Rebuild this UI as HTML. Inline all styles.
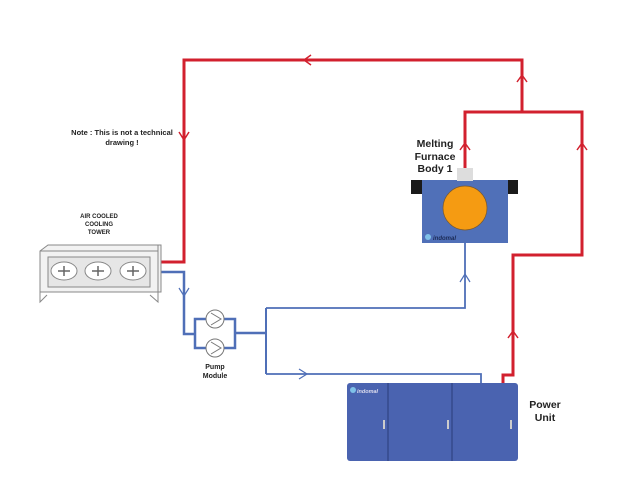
<!DOCTYPE html>
<html><head><style>body{margin:0;background:#fff}svg{display:block}text{font-family:"Liberation Sans",sans-serif;font-weight:bold}</style></head><body>
<svg width="640" height="498" viewBox="0 0 640 498" xmlns="http://www.w3.org/2000/svg">
<g fill="none" stroke="#d2202e" stroke-width="3">
<polyline points="160,262 184,262 184,60 522,60 522,112"/>
<polyline points="465,168 465,112 582,112 582,255 513,255 513,375 503,375 503,384"/>
</g>
<g fill="none" stroke="#d2202e" stroke-width="1.5">
<polyline points="311,55 304,60 311,65"/>
<polyline points="179,132 184,140 189,132"/>
<polyline points="517,82 522,75 527,82"/>
<polyline points="460,150 465,143 470,150"/>
<polyline points="577,150 582,143 587,150"/>
<polyline points="508,338 513,331 518,338"/>
</g>
<g fill="none" stroke="#4f6fb7">
<polyline stroke-width="2.5" points="160,272 184,272 184,334 195,334"/>
<rect x="195" y="319" width="40" height="29" stroke-width="2.5"/>
<polyline stroke-width="2.5" points="235,333 266,333"/>
<polyline stroke-width="2" points="266,308 266,374"/>
<polyline stroke-width="1.8" points="266,308 465,308 465,243"/>
<polyline stroke-width="1.8" points="266,374 481,374 481,384"/>
<polyline stroke-width="1.2" points="179,288 184,296 189,288"/>
<polyline stroke-width="1.2" points="460,282 465,274 470,282"/>
<polyline stroke-width="1.2" points="299,369 307,374 299,379"/>
</g>
<g fill="#fff" stroke="#777" stroke-width="1">
<circle cx="215" cy="319" r="9"/><circle cx="215" cy="348" r="9"/>
<polyline points="211,313 221,319 211,325"/><polyline points="211,342 221,348 211,354"/>
</g>
<g stroke="#888" stroke-width="1" fill="#f2f2f2">
<polygon points="40,251 48,245 161,245 161,292 40,292"/>
<line x1="40" y1="251" x2="158" y2="251"/>
<line x1="158" y1="245" x2="158" y2="292"/>
<rect x="48" y="257" width="102" height="30" fill="#e6e6e6"/>
<ellipse cx="64" cy="271" rx="13" ry="9" fill="#fff"/>
<ellipse cx="98" cy="271" rx="13" ry="9" fill="#fff"/>
<ellipse cx="133" cy="271" rx="13" ry="9" fill="#fff"/>
<polyline fill="none" points="40,292 40,302 47,295"/>
<polyline fill="none" points="158,292 158,302 150,295"/>
</g>
<g stroke="#666" stroke-width="1.5">
<path d="M58,271h12M64,266v10M92,271h12M98,266v10M127,271h12M133,266v10"/>
</g>
<rect x="411" y="180" width="12" height="14" fill="#1a1a1a"/>
<rect x="507" y="180" width="11" height="14" fill="#1a1a1a"/>
<rect x="422" y="180" width="86" height="63" fill="#5070b8"/>
<rect x="457" y="168" width="16" height="13" fill="#ddd"/>
<circle cx="465" cy="208" r="22" fill="#f59b12" stroke="#7a5a30" stroke-width="0.7"/>
<circle cx="428" cy="237" r="3" fill="#7fc1e8"/>
<text x="433" y="240" font-size="6" fill="#1b2a55" font-style="italic">indomal</text>
<rect x="347" y="383" width="171" height="78" rx="3" fill="#4a63b0"/>
<line x1="388" y1="383" x2="388" y2="461" stroke="#2a3c7a"/>
<line x1="452" y1="383" x2="452" y2="461" stroke="#2a3c7a"/>
<rect x="383" y="420" width="2" height="9" fill="#ccc"/>
<rect x="447" y="420" width="2" height="9" fill="#ccc"/>
<rect x="510" y="420" width="2" height="9" fill="#ccc"/>
<circle cx="353" cy="390" r="3" fill="#7fc1e8"/>
<text x="357" y="393" font-size="5.5" fill="#dde" font-style="italic">indomal</text>
<g fill="#222" text-anchor="middle">
<text x="122" y="135" font-size="7.5">Note : This is not a technical</text>
<text x="122" y="145" font-size="7.5">drawing !</text>
<text x="99" y="218" font-size="6">AIR COOLED</text>
<text x="99" y="226" font-size="6">COOLING</text>
<text x="99" y="234" font-size="6">TOWER</text>
<text x="215" y="369" font-size="7">Pump</text>
<text x="215" y="378" font-size="7">Module</text>
<text x="435" y="147" font-size="10.5">Melting</text>
<text x="435" y="160" font-size="10.5">Furnace</text>
<text x="435" y="172" font-size="10.5">Body 1</text>
<text x="545" y="408" font-size="10.5">Power</text>
<text x="545" y="421" font-size="10.5">Unit</text>
</g>
</svg>
</body></html>
